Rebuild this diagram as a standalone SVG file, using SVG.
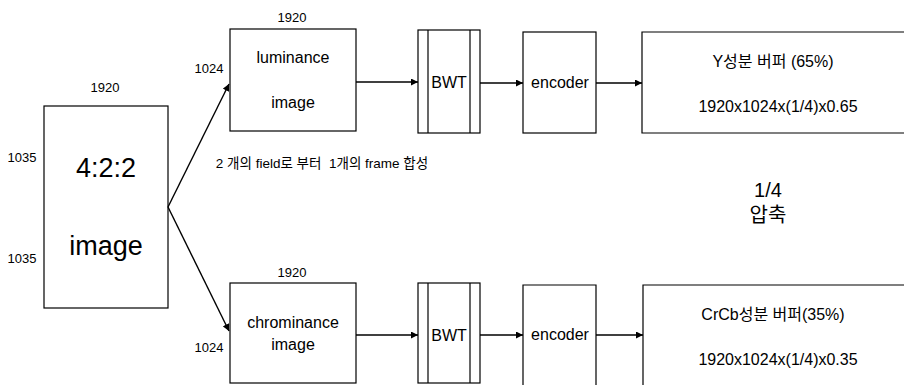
<svg xmlns="http://www.w3.org/2000/svg" width="904" height="385" viewBox="0 0 904 385">
<style>
text{font-family:"Liberation Sans","Noto Sans CJK KR",sans-serif;fill:#000;text-anchor:middle}
.box{fill:none;stroke:#000;stroke-width:1.2}
.con{fill:none;stroke:#000;stroke-width:1.4}
.lbl{font-size:13px}
.mid{font-size:16px}
.rat{font-size:20px}
.big{font-size:27px}
</style>
<defs>
<marker id="ah" viewBox="0 0 10 10" refX="10" refY="5" markerWidth="7" markerHeight="7" markerUnits="userSpaceOnUse" orient="auto">
<path d="M0,0 L10,5 L0,10 z" fill="#000"/>
</marker>
</defs>
<rect width="904" height="385" fill="#fff"/>

<g id="src">
<rect class="box" x="44" y="106" width="124" height="202"/>
<text class="lbl" x="105" y="92">1920</text>
<text class="lbl" x="22" y="162">1035</text>
<text class="lbl" x="22" y="263">1035</text>
<text class="big" x="106" y="177">4:2:2</text>
<text class="big" x="106" y="255">image</text>
</g>

<g id="lum">
<rect class="box" x="230" y="29" width="126" height="102"/>
<text class="lbl" x="292" y="22">1920</text>
<text class="lbl" x="209" y="73">1024</text>
<text class="mid" x="293" y="63">luminance</text>
<text class="mid" x="293" y="108">image</text>
</g>

<g id="bwt1">
<rect class="box" x="418" y="30" width="62" height="103"/>
<line class="box" x1="428" y1="30" x2="428" y2="133"/>
<line class="box" x1="470" y1="30" x2="470" y2="133"/>
<text class="mid" x="449" y="88">BWT</text>
</g>

<g id="enc1">
<rect class="box" x="523" y="32" width="73" height="101"/>
<text class="mid" x="560" y="88">encoder</text>
</g>

<g id="ybuf">
<path class="box" d="M904,32 H642 V133 H904"/>
<text class="mid" x="773" y="67">Y성분 버퍼 (65%)</text>
<text class="mid" x="778" y="112">1920x1024x(1/4)x0.65</text>
</g>

<g id="note">
<text class="lbl" x="322" y="168" style="font-size:13.5px" xml:space="preserve">2 개의 field로 부터  1개의 frame 합성</text>
</g>

<g id="ratio">
<text class="rat" x="768" y="197">1/4</text>
<text class="rat" x="768" y="222">압축</text>
</g>

<g id="chr">
<rect class="box" x="230" y="283" width="126" height="100"/>
<text class="lbl" x="292" y="277">1920</text>
<text class="lbl" x="209" y="352">1024</text>
<text class="mid" x="293" y="328">chrominance</text>
<text class="mid" x="293" y="350">image</text>
</g>

<g id="bwt2">
<rect class="box" x="418" y="283" width="62" height="100"/>
<line class="box" x1="428" y1="283" x2="428" y2="383"/>
<line class="box" x1="470" y1="283" x2="470" y2="383"/>
<text class="mid" x="449" y="341">BWT</text>
</g>

<g id="enc2">
<path class="box" d="M523,386 V285 H596 V386"/>
<text class="mid" x="560" y="340">encoder</text>
</g>

<g id="cbuf">
<path class="box" d="M904,285 H643 V386"/>
<text class="mid" x="773" y="320">CrCb성분 버퍼(35%)</text>
<text class="mid" x="778" y="365">1920x1024x(1/4)x0.35</text>
</g>

<g id="connectors">
<line class="con" x1="168" y1="207" x2="229" y2="84" marker-end="url(#ah)"/>
<line class="con" x1="168" y1="207" x2="229" y2="331" marker-end="url(#ah)"/>
<line class="con" x1="356" y1="82" x2="418" y2="82" marker-end="url(#ah)"/>
<line class="con" x1="480" y1="83" x2="523" y2="83" marker-end="url(#ah)"/>
<line class="con" x1="596" y1="83" x2="642" y2="83" marker-end="url(#ah)"/>
<line class="con" x1="356" y1="335" x2="418" y2="335" marker-end="url(#ah)"/>
<line class="con" x1="480" y1="335" x2="523" y2="335" marker-end="url(#ah)"/>
<line class="con" x1="596" y1="335" x2="643" y2="335" marker-end="url(#ah)"/>
</g>
</svg>
